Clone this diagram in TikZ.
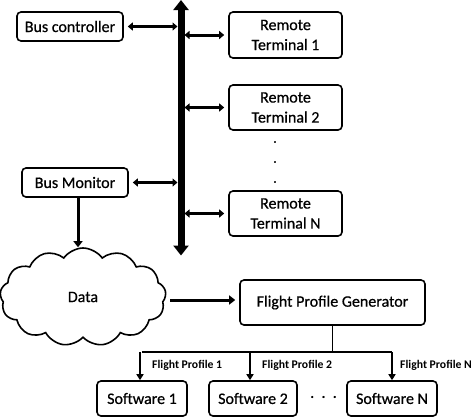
\documentclass[tikz,border=0pt]{standalone}
\usepackage{fontspec}
\setmainfont{Carlito}
\newfontfamily\mainf{Carlito}[FakeBold=0.6]
\usetikzlibrary{arrows.meta,shapes.symbols}
\begin{document}
\begin{tikzpicture}[x=1pt,y=-1pt,
  box/.style={draw,line width=1.6pt,rounded corners=4pt,align=center,inner sep=0pt,font=\mainf\fontsize{16}{20}\selectfont},
  dbl/.style={line width=3pt,{Triangle[width=8pt,length=5pt]}-{Triangle[width=8pt,length=5pt]}},
  sgl/.style={line width=3pt,-{Triangle[width=9pt,length=6pt]}},
  thin/.style={line width=1.6pt},
  thinarr/.style={line width=1.6pt,-{Triangle[width=7pt,length=6pt]}},
  lbl/.style={font=\bfseries\fontsize{11.7}{13}\selectfont,anchor=west,inner sep=0pt},
  busline/.style={line width=7pt,{Triangle[width=15pt,length=10pt]}-{Triangle[width=15pt,length=10pt]}}
]
\useasboundingbox (0,0) rectangle (474,416);
% nodes
\node[box,minimum width=106pt,minimum height=29pt] (bc) at (70,26.5) {Bus controller};
\node[box,minimum width=113pt,minimum height=46pt] (rt1) at (285.5,35) {Remote\\Terminal 1};
\node[box,minimum width=113pt,minimum height=45pt] (rt2) at (285.5,107.5) {Remote\\Terminal 2};
\node[box,minimum width=113pt,minimum height=45pt] (rtn) at (285.5,213.5) {Remote\\Terminal N};
\node[box,minimum width=106pt,minimum height=29pt] (bm) at (75,182.5) {Bus Monitor};
\node[draw,line width=1.6pt,cloud,cloud puffs=13,cloud puff arc=110,aspect=1.75,minimum width=166pt,minimum height=98pt,inner sep=0pt,font=\mainf\fontsize{16}{20}\selectfont] (data) at (83,297) {Data};
\node[box,minimum width=185pt,minimum height=45pt] (fpg) at (332.5,302.5) {Flight Profile Generator};
\node[box,minimum width=90pt,minimum height=35pt] (s1) at (142,398.5) {Software 1};
\node[box,minimum width=88pt,minimum height=35pt] (s2) at (253,398.5) {Software 2};
\node[box,minimum width=90pt,minimum height=35pt] (sn) at (392,398.5) {Software N};
\node[font=\mainf\fontsize{16}{20}\selectfont,inner sep=0pt] (hdots) at (323.5,397) {.\ \ .\ \ .};
\node[inner sep=0pt,font=\mainf\fontsize{13}{16}\selectfont] (d1) at (275,142) {.};
\node[inner sep=0pt,font=\mainf\fontsize{13}{16}\selectfont] (d2) at (275,162) {.};
\node[inner sep=0pt,font=\mainf\fontsize{13}{16}\selectfont] (d3) at (275,182) {.};
% bus
\coordinate (bustop) at (181,0);
\coordinate (busbot) at (181,255.5);
\coordinate (busL) at (177.5,0);
\coordinate (busR) at (184.5,0);
\draw[busline] (bustop) -- (busbot);
% bus connections
\draw[dbl] ([xshift=4pt]bc.east) -- (bc.east -| busL);
\draw[dbl] ([xshift=4pt]bm.east) -- (bm.east -| busL);
\draw[dbl] (rt1.west -| busR) -- ([xshift=-4pt]rt1.west);
\draw[dbl] (rt2.west -| busR) -- ([xshift=-4pt]rt2.west);
\draw[dbl] (rtn.west -| busR) -- ([xshift=-4pt]rtn.west);
% monitor to data
\draw[sgl] ([xshift=3pt]bm.south) -- ([xshift=3pt]bm.south |- data.north);
% data to fpg
\draw[sgl] ([xshift=4pt]data.east |- 0,300) -- ([xshift=-4pt]fpg.west |- 0,300);
% tree
\coordinate (junc) at (332.5,352);
\draw[thin] (fpg.south) -- (junc);
\draw[thin] (s1.north |- junc) -- (sn.north |- junc);
\draw[thinarr] ([xshift=-2pt]s1.north |- junc) -- ([xshift=-2pt]s1.north);
\draw[thinarr] ([xshift=-3pt]s2.north |- junc) -- ([xshift=-3pt]s2.north);
\draw[thinarr] (sn.north |- junc) -- (sn.north);
\node[lbl] (l1) at (152,365) {Flight Profile 1};
\node[lbl] (l2) at (262,365) {Flight Profile 2};
\node[lbl] (l3) at (400,365) {Flight Profile N};
\end{tikzpicture}
\end{document}
